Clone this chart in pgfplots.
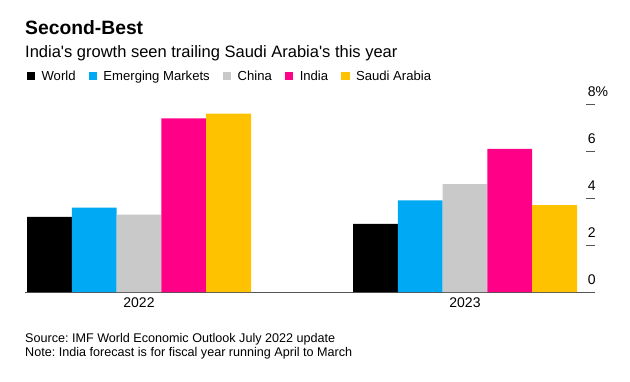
\documentclass[border=0pt]{standalone}
\usepackage{pgfplots}
\pgfplotsset{compat=1.18}
\usepackage{fontspec}
\setmainfont{Liberation Sans}
\frenchspacing
\definecolor{cWorld}{HTML}{000000}
\definecolor{cEM}{HTML}{00A9F4}
\definecolor{cChina}{HTML}{C9C9C9}
\definecolor{cIndia}{HTML}{FF0087}
\definecolor{cSaudi}{HTML}{FFC200}
\definecolor{cAxis}{HTML}{555555}
\begin{document}
\begin{tikzpicture}[x=1pt,y=1pt]
\useasboundingbox (0,0) rectangle (630,381);
\fill[white] (0,0) rectangle (630,381);
\node[anchor=base west, inner sep=0pt, font=\fontsize{19.3}{23}\selectfont\bfseries] at (25,346) {Second-Best};
\node[anchor=base west, inner sep=0pt, font=\fontsize{16.5}{20}\selectfont] at (25,323) {India\textquotesingle s growth seen trailing Saudi Arabia\textquotesingle s this year};
\node[anchor=base west, inner sep=0pt, font=\fontsize{12.6}{15}\selectfont] at (25,38.7) {Source: IMF World Economic Outlook July 2022 update};
\node[anchor=base west, inner sep=0pt, font=\fontsize{12.6}{15}\selectfont] at (25,24.3) {Note: India forecast is for fiscal year running April to March};
\begin{axis}[
  at={(25pt,89pt)}, anchor=south west,
  scale only axis, width=570pt, height=187.7pt,
  xmin=25, xmax=595, ymin=0, ymax=8,
  clip=false,
  ybar=0pt, bar width=44.8,
  axis x line*=bottom, axis y line*=right,
  x axis line style={draw=cAxis, line width=0.9pt, -},
  y axis line style={draw=none, -},
  xtick={139,465}, xticklabels={2022,2023},
  xtick style={draw=none},
  xticklabel style={inner sep=0pt, yshift=-5.5pt, font=\fontsize{14}{16}\selectfont},
  ytick={0,2,4,6,8}, yticklabels={0,2,4,6,8\%},
  ytick style={draw=cAxis, line width=0.9pt},
  tick align=inside, major tick length=9pt,
  yticklabel style={anchor=base west, inner sep=0pt, xshift=-7.3pt, yshift=7.5pt, font=\fontsize{14}{16}\selectfont},
  legend columns=5,
  legend style={at={(axis description cs:0.0035,1.15)}, anchor=west, draw=none, fill=none, inner sep=0pt, outer sep=0pt,
    font=\fontsize{13.1}{16}\selectfont,
    /tikz/every even column/.append style={column sep=11.3pt}},
  legend image code/.code={\path[#1] (0pt,-4.1pt) rectangle (8.3pt,4.2pt); \path (12.6pt,0pt);},
]
\addplot[fill=cWorld, draw=none] coordinates {(139,3.2) (465,2.9)};
\addplot[fill=cEM, draw=none] coordinates {(139,3.6) (465,3.9)};
\addplot[fill=cChina, draw=none] coordinates {(139,3.3) (465,4.6)};
\addplot[fill=cIndia, draw=none] coordinates {(139,7.4) (465,6.1)};
\addplot[fill=cSaudi, draw=none] coordinates {(139,7.6) (465,3.7)};
\legend{World, Emerging Markets, China, India, Saudi Arabia}
\end{axis}
\end{tikzpicture}
\end{document}
